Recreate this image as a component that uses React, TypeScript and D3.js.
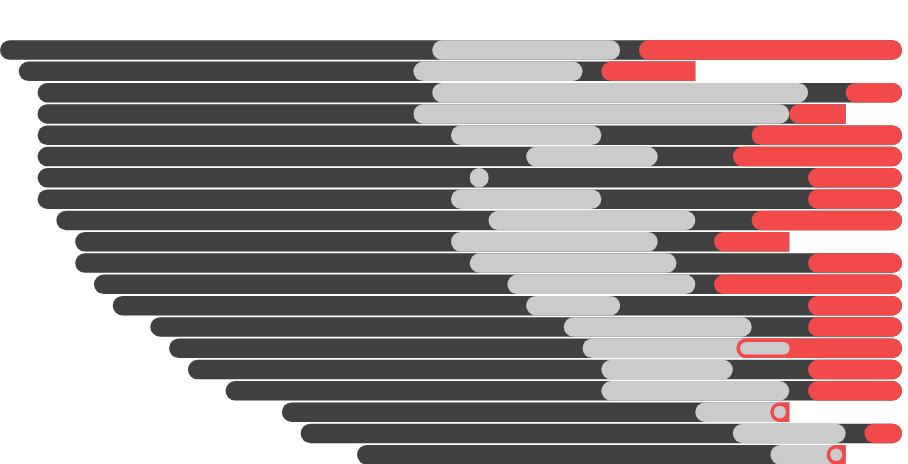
import React from "react";
import * as d3 from "d3";

// one entry per row, in units of the x domain (0..48)
const rowStart = [0, 1, 2, 2, 2, 2, 2, 2, 3, 4, 4, 5, 6, 8, 9, 10, 12, 15, 16, 19];
const rowEnd = [48, 37, 48, 45, 48, 48, 48, 48, 48, 42, 48, 48, 48, 48, 48, 48, 48, 42, 48, 45];
const greyStart = [23, 22, 23, 22, 24, 28, 25, 24, 26, 24, 25, 27, 28, 30, 31, 32, 32, 37, 39, 41];
const greyEnd = [33, 31, 43, 42, 32, 35, 26, 32, 37, 35, 36, 37, 33, 40, 40, 39, 42, 42, 45, 45];
const redStart = [34, 32, 45, 42, 40, 39, 43, 43, 40, 38, 43, 38, 43, 43, 39.2, 43, 43, 41, 46, 44];
// ringed segments: [row, from, to]
const rings: [number, number, number][] = [
  [14, 39.2, 42.2],
  [17, 41, 42],
  [19, 44, 45],
];

const MAX = 48;
const width = 908;
const height = 464;
const DARK = "#404040";
const GREY = "#cbcbcb";
const RED = "#f2494a";

export default function App() {
  const x = d3.scaleLinear().domain([0, MAX]).range([0, 902]);
  const y = d3
    .scaleBand<number>()
    .domain(d3.range(rowStart.length))
    .range([40.3, 464.5])
    .paddingInner(0.085);
  const h = y.bandwidth();

  // pill from a to b; open right end when the row is cut short
  const pill = (a: number, b: number, cut: boolean, fill: string, key: string, inset = 0) => {
    const x1 = x(a) + inset;
    const x2 = (cut ? x(b) + h : x(b)) - inset;
    const hh = h - inset * 2;
    const w = Math.max(x2 - x1, 0);
    const r = Math.min(hh / 2, w / 2);
    return <rect key={key} x={x1} y={inset} width={w} height={hh} rx={r} ry={r} fill={fill} />;
  };

  return (
    <svg
      width={width}
      height={height}
      style={{ position: "absolute", left: 0, top: 0, display: "block" }}
    >
      <defs>
        {rowStart.map((_, i) => (
          <clipPath id={`row-${i}`} key={i}>
            <rect x={0} y={-1} width={x(rowEnd[i])} height={h + 2} />
          </clipPath>
        ))}
      </defs>
      {rowStart.map((s, i) => {
        const cut = rowEnd[i] < MAX;
        const ring = rings.filter((r) => r[0] === i);
        return (
          <g key={i} transform={`translate(0,${y(i)})`} clipPath={`url(#row-${i})`}>
            {pill(s, rowEnd[i], cut, DARK, "d")}
            {pill(greyStart[i], greyEnd[i], cut && greyEnd[i] >= rowEnd[i], GREY, "g")}
            {pill(redStart[i], rowEnd[i], cut, RED, "r")}
            {ring.map((r, j) => (
              <g key={`ring${j}`}>
                {pill(r[1], r[2], false, RED, "ro")}
                {pill(r[1], r[2], false, GREY, "ri", 3.4)}
              </g>
            ))}
          </g>
        );
      })}
    </svg>
  );
}
